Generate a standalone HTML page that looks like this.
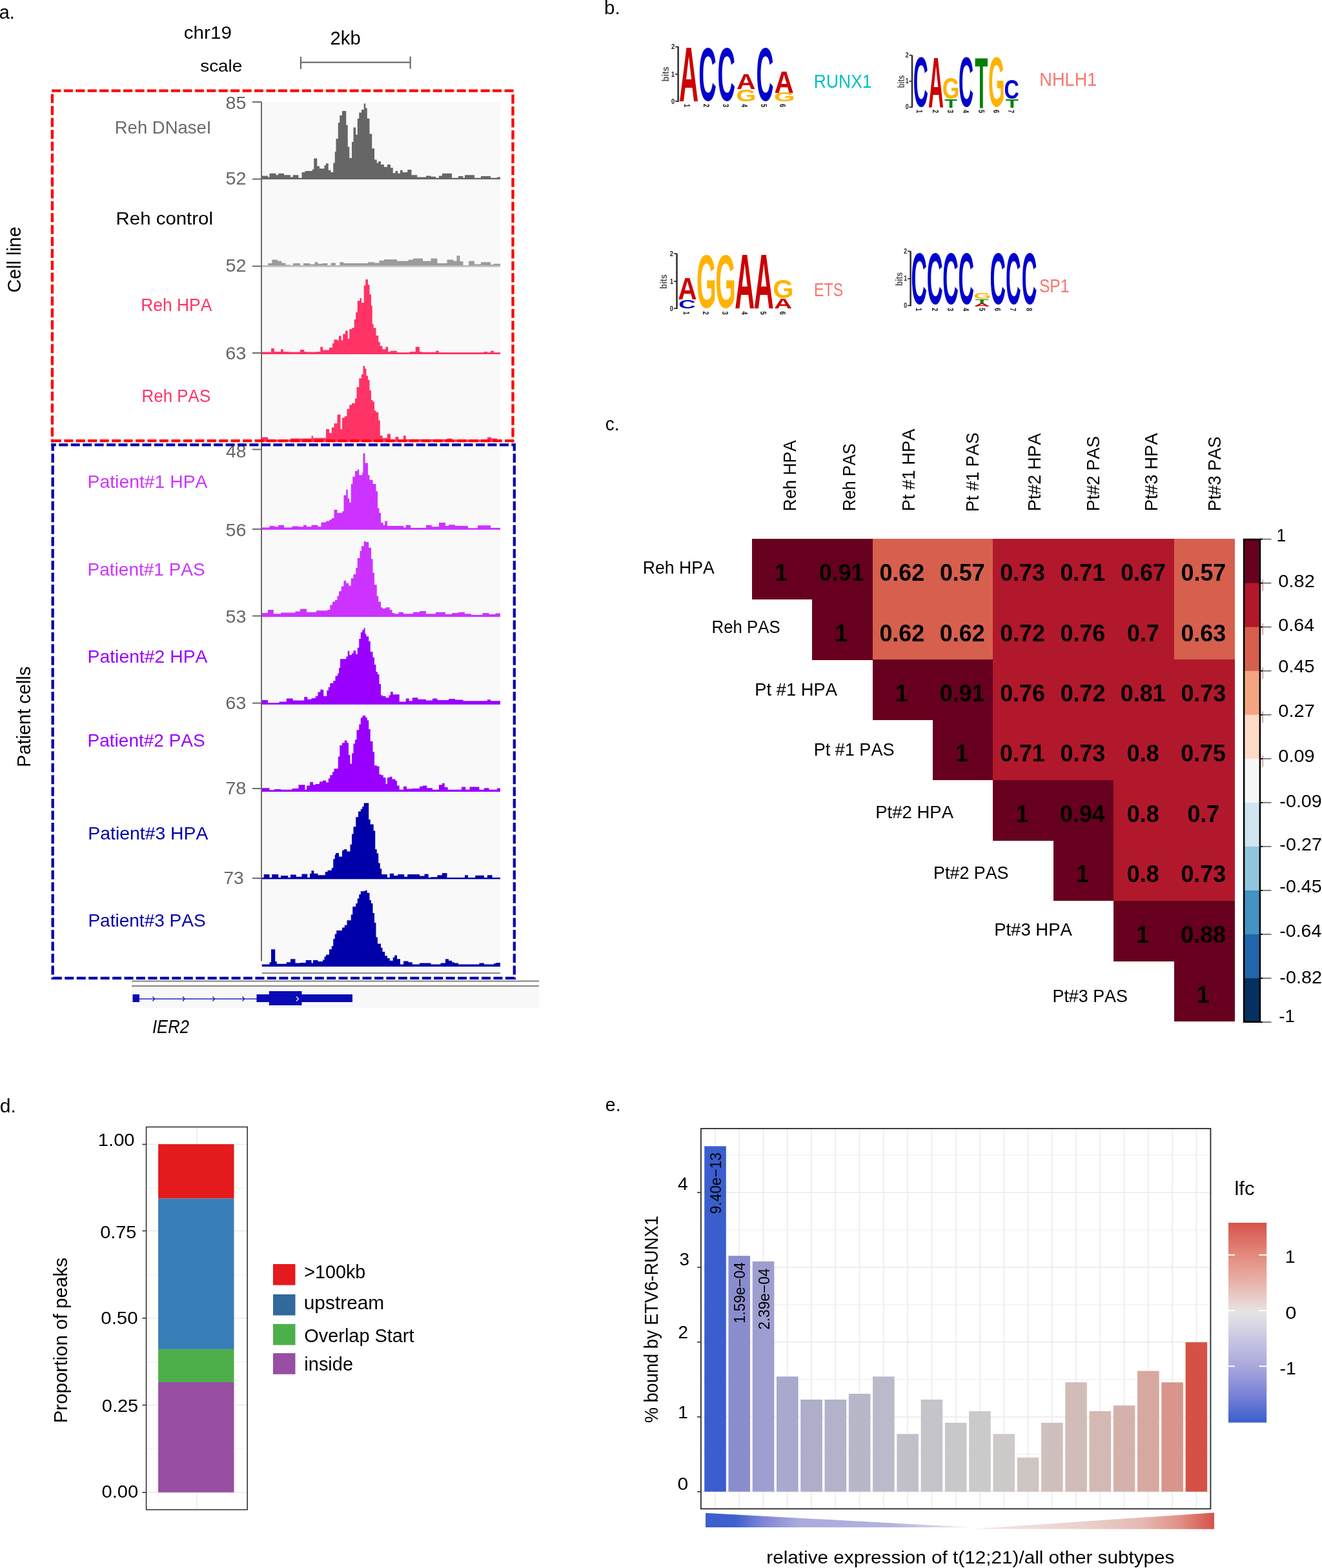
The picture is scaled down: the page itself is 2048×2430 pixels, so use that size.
<!DOCTYPE html>
<html><head><meta charset="utf-8"><title>Figure</title>
<style>
html,body{margin:0;padding:0;background:#fff;}
body{width:2048px;height:2430px;overflow:hidden;}
svg{display:block;}
svg text{font-family:"Liberation Sans", Arial, sans-serif;font-kerning:none;font-variant-ligatures:none;}
</style></head>
<body>
<svg width="2048" height="2430" viewBox="0 0 2048 2430">
<rect x="0" y="0" width="2048" height="2430" fill="#fff"/>
<text x="-1.23" y="28.80" font-size="29.50" textLength="24.06" lengthAdjust="spacingAndGlyphs" fill="#000">a.</text>
<rect x="406.0" y="158" width="369.0" height="1352" fill="#f9f9f9"/>
<path d="M406.00,277.90 L405.50,272.50 L415.00,272.50 L415.00,274.50 L417.50,274.50 L417.50,268.75 L427.50,268.75 L427.50,271.25 L431.25,271.25 L431.25,268.75 L440.00,268.75 L440.00,271.25 L450.00,271.25 L450.00,274.50 L453.75,274.50 L453.75,271.25 L462.50,271.25 L462.50,276.25 L467.50,276.25 L467.50,267.00 L472.50,267.00 L472.50,265.00 L483.75,265.00 L483.75,262.50 L486.25,262.50 L486.25,245.50 L491.25,245.50 L491.25,257.50 L495.00,257.50 L495.00,261.25 L502.50,261.25 L502.50,256.25 L505.00,256.25 L505.00,253.25 L508.75,253.25 L508.75,263.75 L512.50,263.75 L512.50,267.00 L516.25,267.00 L516.25,252.50 L518.75,252.50 L518.75,235.00 L520.50,235.00 L520.50,215.00 L523.75,215.00 L523.75,190.00 L526.25,190.00 L526.25,178.75 L530.00,178.75 L530.00,172.00 L536.25,172.00 L536.25,193.75 L538.75,193.75 L538.75,227.50 L541.25,227.50 L541.25,245.00 L545.00,245.00 L545.00,220.00 L547.50,220.00 L547.50,197.50 L551.25,197.50 L551.25,208.75 L553.75,208.75 L553.75,183.75 L556.25,183.75 L556.25,174.50 L560.00,174.50 L560.00,170.00 L563.75,170.00 L563.75,160.50 L566.25,160.50 L566.25,167.50 L568.75,167.50 L568.75,183.75 L572.50,183.75 L572.50,207.50 L576.25,207.50 L576.25,230.00 L580.00,230.00 L580.00,247.50 L583.75,247.50 L583.75,252.50 L586.25,252.50 L586.25,250.00 L590.00,250.00 L590.00,255.00 L595.00,255.00 L595.00,258.75 L600.00,258.75 L600.00,255.00 L605.00,255.00 L605.00,260.00 L608.75,260.00 L608.75,268.25 L612.50,268.25 L612.50,265.00 L616.25,265.00 L616.25,268.75 L620.00,268.75 L620.00,263.75 L623.75,263.75 L623.75,267.00 L631.25,267.00 L631.25,263.00 L637.50,263.00 L637.50,271.25 L646.25,271.25 L646.25,274.50 L660.00,274.50 L660.00,272.50 L667.50,272.50 L667.50,273.75 L675.00,273.75 L675.00,276.25 L680.00,276.25 L680.00,272.50 L685.00,272.50 L685.00,268.75 L700.00,268.75 L700.00,276.25 L710.00,276.25 L710.00,273.00 L717.50,273.00 L717.50,276.25 L720.00,276.25 L720.00,271.25 L735.00,271.25 L735.00,276.25 L745.00,276.25 L745.00,273.00 L760.00,273.00 L760.00,276.25 L770.00,276.25 L770.00,274.50 L775.00,274.50 L775.00,277.90 Z" fill="#666666"/>
<rect x="406.0" y="275.70" width="369.0" height="2.2" fill="#666666"/>
<path d="M406.00,413.60 L405.50,411.25 L415.00,411.25 L415.00,408.00 L421.25,408.00 L421.25,402.50 L430.00,402.50 L430.00,404.50 L436.25,404.50 L436.25,407.50 L442.50,407.50 L442.50,410.50 L450.00,410.50 L450.00,411.25 L453.75,411.25 L453.75,408.00 L465.00,408.00 L465.00,411.25 L470.00,411.25 L470.00,408.00 L480.00,408.00 L480.00,409.50 L487.50,409.50 L487.50,406.25 L492.50,406.25 L492.50,408.75 L500.00,408.75 L500.00,408.00 L507.50,408.00 L507.50,411.25 L512.50,411.25 L512.50,407.50 L520.00,407.50 L520.00,411.25 L526.25,411.25 L526.25,406.25 L532.50,406.25 L532.50,408.00 L540.00,408.00 L540.00,408.00 L570.00,408.00 L570.00,406.25 L580.00,406.25 L580.00,407.50 L587.50,407.50 L587.50,403.75 L595.00,403.75 L595.00,402.00 L602.50,402.00 L602.50,402.00 L615.00,402.00 L615.00,404.50 L632.50,404.50 L632.50,402.50 L640.00,402.50 L640.00,400.50 L655.00,400.50 L655.00,404.50 L667.50,404.50 L667.50,400.50 L677.50,400.50 L677.50,408.00 L682.50,408.00 L682.50,408.00 L692.50,408.00 L692.50,402.50 L702.50,402.50 L702.50,404.50 L707.50,404.50 L707.50,396.25 L712.50,396.25 L712.50,405.00 L717.50,405.00 L717.50,411.25 L726.25,411.25 L726.25,404.50 L735.00,404.50 L735.00,409.50 L745.00,409.50 L745.00,406.25 L760.00,406.25 L760.00,410.00 L765.00,410.00 L765.00,408.75 L775.00,408.75 L775.00,413.60 Z" fill="#9b9b9b"/>
<rect x="406.0" y="411.40" width="369.0" height="2.2" fill="#c2c2c2"/>
<path d="M406.00,548.90 L405.50,545.50 L420.00,545.50 L420.00,540.00 L425.00,540.00 L425.00,545.00 L435.00,545.00 L435.00,541.25 L438.75,541.25 L438.75,545.00 L447.50,545.00 L447.50,545.50 L465.00,545.50 L465.00,542.00 L471.25,542.00 L471.25,545.00 L475.00,545.00 L475.00,545.50 L490.00,545.50 L490.00,545.00 L496.25,545.00 L496.25,537.50 L500.00,537.50 L500.00,542.50 L510.00,542.50 L510.00,538.75 L515.00,538.75 L515.00,532.00 L517.50,532.00 L517.50,526.25 L522.50,526.25 L522.50,527.50 L525.00,527.50 L525.00,520.50 L528.75,520.50 L528.75,527.50 L531.25,527.50 L531.25,517.50 L535.00,517.50 L535.00,512.50 L538.75,512.50 L538.75,525.00 L541.25,525.00 L541.25,510.00 L545.00,510.00 L545.00,508.25 L548.75,508.25 L548.75,495.00 L551.25,495.00 L551.25,483.75 L553.75,483.75 L553.75,466.25 L557.50,466.25 L557.50,462.00 L560.00,462.00 L560.00,469.25 L563.75,469.25 L563.75,442.50 L566.25,442.50 L566.25,433.00 L570.00,433.00 L570.00,441.25 L572.50,441.25 L572.50,456.25 L575.00,456.25 L575.00,473.75 L576.75,473.75 L576.75,502.50 L578.75,502.50 L578.75,508.25 L582.50,508.25 L582.50,520.00 L586.25,520.00 L586.25,530.00 L588.75,530.00 L588.75,536.25 L592.50,536.25 L592.50,541.25 L597.50,541.25 L597.50,537.50 L601.25,537.50 L601.25,545.00 L605.00,545.00 L605.00,543.75 L615.00,543.75 L615.00,546.25 L635.00,546.25 L635.00,545.00 L643.75,545.00 L643.75,537.50 L650.00,537.50 L650.00,545.00 L653.75,545.00 L653.75,545.75 L675.00,545.75 L675.00,543.75 L680.00,543.75 L680.00,546.25 L750.00,546.25 L750.00,545.00 L755.00,545.00 L755.00,546.25 L760.00,546.25 L760.00,543.75 L765.00,543.75 L765.00,546.25 L775.00,546.25 L775.00,548.90 Z" fill="#ff3366"/>
<rect x="406.0" y="546.70" width="369.0" height="2.2" fill="#ff3366"/>
<path d="M406.00,684.70 L405.50,677.50 L415.00,677.50 L415.00,681.25 L450.00,681.25 L450.00,679.50 L482.50,679.50 L482.50,675.50 L485.00,675.50 L485.00,678.75 L505.00,678.75 L505.00,665.00 L510.00,665.00 L510.00,671.25 L513.75,671.25 L513.75,662.50 L517.50,662.50 L517.50,656.25 L522.50,656.25 L522.50,642.50 L527.50,642.50 L527.50,665.00 L530.00,665.00 L530.00,647.50 L533.75,647.50 L533.75,645.00 L537.50,645.00 L537.50,633.75 L541.25,633.75 L541.25,627.50 L545.00,627.50 L545.00,625.00 L550.00,625.00 L550.00,617.50 L552.50,617.50 L552.50,600.00 L556.25,600.00 L556.25,586.25 L560.00,586.25 L560.00,580.00 L562.50,580.00 L562.50,567.00 L565.00,567.00 L565.00,571.25 L567.50,571.25 L567.50,582.50 L570.00,582.50 L570.00,588.75 L572.50,588.75 L572.50,605.00 L575.00,605.00 L575.00,620.00 L577.50,620.00 L577.50,622.50 L580.00,622.50 L580.00,636.25 L582.50,636.25 L582.50,638.75 L586.25,638.75 L586.25,651.25 L588.75,651.25 L588.75,675.00 L592.50,675.00 L592.50,678.75 L600.00,678.75 L600.00,672.50 L605.00,672.50 L605.00,681.25 L612.50,681.25 L612.50,677.00 L617.50,677.00 L617.50,681.25 L625.00,681.25 L625.00,675.00 L628.75,675.00 L628.75,680.75 L692.50,680.75 L692.50,679.50 L700.00,679.50 L700.00,681.25 L755.00,681.25 L755.00,677.50 L761.25,677.50 L761.25,679.50 L770.00,679.50 L770.00,681.25 L775.00,681.25 L775.00,684.70 Z" fill="#ff3366"/>
<rect x="406.0" y="682.50" width="369.0" height="2.2" fill="#ff3366"/>
<path d="M406.00,820.70 L405.50,817.50 L417.50,817.50 L417.50,815.00 L425.00,815.00 L425.00,816.25 L431.25,816.25 L431.25,813.75 L440.00,813.75 L440.00,817.50 L452.50,817.50 L452.50,815.50 L462.50,815.50 L462.50,816.25 L470.00,816.25 L470.00,813.75 L475.00,813.75 L475.00,816.25 L482.50,816.25 L482.50,813.75 L492.50,813.75 L492.50,816.25 L497.50,816.25 L497.50,809.50 L505.00,809.50 L505.00,807.50 L510.00,807.50 L510.00,805.50 L513.75,805.50 L513.75,803.00 L517.50,803.00 L517.50,790.00 L522.50,790.00 L522.50,795.00 L530.00,795.00 L530.00,792.50 L532.50,792.50 L532.50,767.50 L536.25,767.50 L536.25,758.75 L538.75,758.75 L538.75,772.50 L541.25,772.50 L541.25,778.75 L543.75,778.75 L543.75,750.00 L546.25,750.00 L546.25,738.75 L550.00,738.75 L550.00,730.00 L553.75,730.00 L553.75,727.50 L556.25,727.50 L556.25,736.25 L561.25,736.25 L561.25,732.50 L562.50,732.50 L562.50,702.50 L565.50,702.50 L565.50,717.50 L570.00,717.50 L570.00,736.25 L572.50,736.25 L572.50,743.75 L577.50,743.75 L577.50,750.00 L582.50,750.00 L582.50,761.25 L585.00,761.25 L585.00,787.50 L587.50,787.50 L587.50,795.00 L590.00,795.00 L590.00,810.00 L593.75,810.00 L593.75,813.75 L596.25,813.75 L596.25,807.50 L600.00,807.50 L600.00,815.00 L625.00,815.00 L625.00,817.50 L628.75,817.50 L628.75,813.75 L636.25,813.75 L636.25,818.00 L660.00,818.00 L660.00,813.75 L668.75,813.75 L668.75,816.25 L680.00,816.25 L680.00,810.00 L690.00,810.00 L690.00,815.00 L695.00,815.00 L695.00,813.25 L705.00,813.25 L705.00,815.00 L725.00,815.00 L725.00,818.75 L740.00,818.75 L740.00,814.25 L760.00,814.25 L760.00,818.00 L775.00,818.00 L775.00,820.70 Z" fill="#cc33ff"/>
<rect x="406.0" y="818.50" width="369.0" height="2.2" fill="#cc33ff"/>
<path d="M406.00,955.90 L405.50,950.00 L415.00,950.00 L415.00,945.00 L423.75,945.00 L423.75,951.25 L435.00,951.25 L435.00,949.50 L457.50,949.50 L457.50,947.50 L465.00,947.50 L465.00,943.75 L475.00,943.75 L475.00,948.75 L490.00,948.75 L490.00,946.25 L507.50,946.25 L507.50,945.00 L511.25,945.00 L511.25,937.50 L515.00,937.50 L515.00,932.50 L518.75,932.50 L518.75,930.00 L522.50,930.00 L522.50,923.75 L525.00,923.75 L525.00,916.25 L528.75,916.25 L528.75,908.75 L532.50,908.75 L532.50,900.00 L536.25,900.00 L536.25,903.75 L540.00,903.75 L540.00,907.50 L543.75,907.50 L543.75,896.25 L547.50,896.25 L547.50,890.00 L551.25,890.00 L551.25,880.00 L553.75,880.00 L553.75,865.00 L557.50,865.00 L557.50,853.75 L560.00,853.75 L560.00,846.25 L563.75,846.25 L563.75,838.75 L566.25,838.75 L566.25,840.00 L571.25,840.00 L571.25,848.75 L575.00,848.75 L575.00,866.25 L577.50,866.25 L577.50,887.50 L580.00,887.50 L580.00,906.25 L583.75,906.25 L583.75,923.75 L586.25,923.75 L586.25,932.50 L590.00,932.50 L590.00,941.25 L592.50,941.25 L592.50,943.00 L597.50,943.00 L597.50,941.25 L603.75,941.25 L603.75,945.00 L607.50,945.00 L607.50,950.00 L611.25,950.00 L611.25,951.25 L617.50,951.25 L617.50,948.75 L625.00,948.75 L625.00,951.25 L640.00,951.25 L640.00,948.75 L650.00,948.75 L650.00,947.00 L660.00,947.00 L660.00,951.25 L675.00,951.25 L675.00,948.75 L690.00,948.75 L690.00,952.00 L700.00,952.00 L700.00,950.00 L710.00,950.00 L710.00,948.75 L720.00,948.75 L720.00,951.25 L730.00,951.25 L730.00,953.00 L747.50,953.00 L747.50,950.00 L757.50,950.00 L757.50,952.00 L767.50,952.00 L767.50,950.50 L775.00,950.50 L775.00,955.90 Z" fill="#cc33ff"/>
<rect x="406.0" y="953.70" width="369.0" height="2.2" fill="#cc33ff"/>
<path d="M406.00,1091.60 L405.50,1085.00 L415.00,1085.00 L415.00,1089.50 L432.50,1089.50 L432.50,1087.50 L443.75,1087.50 L443.75,1082.50 L453.75,1082.50 L453.75,1085.50 L461.25,1085.50 L461.25,1085.50 L471.25,1085.50 L471.25,1080.00 L476.25,1080.00 L476.25,1083.75 L482.50,1083.75 L482.50,1082.00 L488.75,1082.00 L488.75,1078.75 L492.50,1078.75 L492.50,1072.50 L496.25,1072.50 L496.25,1068.75 L501.25,1068.75 L501.25,1078.75 L506.25,1078.75 L506.25,1070.00 L508.75,1070.00 L508.75,1065.00 L511.25,1065.00 L511.25,1058.75 L516.25,1058.75 L516.25,1055.00 L519.50,1055.00 L519.50,1047.50 L523.00,1047.50 L523.00,1043.75 L525.00,1043.75 L525.00,1035.00 L527.00,1035.00 L527.00,1021.25 L536.25,1021.25 L536.25,1017.50 L538.75,1017.50 L538.75,1008.75 L541.25,1008.75 L541.25,1015.00 L545.00,1015.00 L545.00,1012.50 L547.50,1012.50 L547.50,1008.25 L551.25,1008.25 L551.25,1013.75 L553.75,1013.75 L553.75,1003.75 L556.25,1003.75 L556.25,990.00 L558.75,990.00 L558.75,980.00 L561.25,980.00 L561.25,976.25 L563.75,976.25 L563.75,973.00 L565.50,973.00 L565.50,982.50 L567.50,982.50 L567.50,986.25 L571.25,986.25 L571.25,993.75 L573.75,993.75 L573.75,1010.00 L577.50,1010.00 L577.50,1018.75 L580.00,1018.75 L580.00,1030.00 L582.50,1030.00 L582.50,1041.25 L585.00,1041.25 L585.00,1045.00 L587.50,1045.00 L587.50,1060.00 L590.00,1060.00 L590.00,1077.50 L592.50,1077.50 L592.50,1078.75 L597.50,1078.75 L597.50,1081.25 L602.50,1081.25 L602.50,1077.50 L605.00,1077.50 L605.00,1072.00 L608.75,1072.00 L608.75,1076.25 L618.75,1076.25 L618.75,1087.50 L628.75,1087.50 L628.75,1082.50 L633.75,1082.50 L633.75,1086.25 L638.75,1086.25 L638.75,1081.25 L647.50,1081.25 L647.50,1083.75 L660.00,1083.75 L660.00,1085.50 L670.00,1085.50 L670.00,1082.50 L677.50,1082.50 L677.50,1085.00 L695.00,1085.00 L695.00,1083.00 L705.00,1083.00 L705.00,1084.50 L717.50,1084.50 L717.50,1086.25 L755.00,1086.25 L755.00,1084.25 L760.00,1084.25 L760.00,1086.25 L775.00,1086.25 L775.00,1091.60 Z" fill="#9900ff"/>
<rect x="406.0" y="1089.40" width="369.0" height="2.2" fill="#9900ff"/>
<path d="M406.00,1226.90 L405.50,1221.25 L417.50,1221.25 L417.50,1224.50 L425.00,1224.50 L425.00,1223.00 L435.00,1223.00 L435.00,1223.75 L452.50,1223.75 L452.50,1222.00 L462.50,1222.00 L462.50,1216.25 L472.50,1216.25 L472.50,1223.75 L475.00,1223.75 L475.00,1217.50 L480.00,1217.50 L480.00,1212.00 L485.00,1212.00 L485.00,1216.25 L488.75,1216.25 L488.75,1215.00 L495.00,1215.00 L495.00,1211.25 L500.00,1211.25 L500.00,1209.50 L505.00,1209.50 L505.00,1212.50 L508.75,1212.50 L508.75,1206.25 L511.25,1206.25 L511.25,1201.25 L515.00,1201.25 L515.00,1196.25 L517.50,1196.25 L517.50,1191.25 L523.75,1191.25 L523.75,1172.50 L526.25,1172.50 L526.25,1155.00 L530.00,1155.00 L530.00,1151.25 L533.75,1151.25 L533.75,1147.50 L537.50,1147.50 L537.50,1151.25 L540.00,1151.25 L540.00,1170.00 L542.50,1170.00 L542.50,1183.75 L545.00,1183.75 L545.00,1167.50 L547.50,1167.50 L547.50,1152.50 L550.00,1152.50 L550.00,1146.25 L552.50,1146.25 L552.50,1131.25 L556.25,1131.25 L556.25,1122.50 L558.75,1122.50 L558.75,1112.50 L561.25,1112.50 L561.25,1109.50 L563.75,1109.50 L563.75,1108.75 L566.25,1108.75 L566.25,1112.00 L568.75,1112.00 L568.75,1116.25 L571.25,1116.25 L571.25,1130.00 L573.75,1130.00 L573.75,1148.75 L577.50,1148.75 L577.50,1165.00 L580.00,1165.00 L580.00,1186.25 L583.75,1186.25 L583.75,1187.50 L587.50,1187.50 L587.50,1200.00 L590.00,1200.00 L590.00,1201.25 L593.75,1201.25 L593.75,1205.00 L597.50,1205.00 L597.50,1215.00 L600.00,1215.00 L600.00,1205.00 L603.75,1205.00 L603.75,1203.75 L607.50,1203.75 L607.50,1207.50 L612.50,1207.50 L612.50,1210.00 L615.00,1210.00 L615.00,1217.50 L618.75,1217.50 L618.75,1223.75 L625.00,1223.75 L625.00,1218.75 L630.00,1218.75 L630.00,1222.50 L637.50,1222.50 L637.50,1222.00 L650.00,1222.00 L650.00,1218.75 L655.00,1218.75 L655.00,1217.50 L661.25,1217.50 L661.25,1221.25 L670.00,1221.25 L670.00,1223.75 L680.00,1223.75 L680.00,1216.25 L685.00,1216.25 L685.00,1213.75 L688.75,1213.75 L688.75,1220.00 L693.75,1220.00 L693.75,1223.75 L715.00,1223.75 L715.00,1219.50 L721.25,1219.50 L721.25,1223.75 L727.50,1223.75 L727.50,1219.50 L742.50,1219.50 L742.50,1223.75 L750.00,1223.75 L750.00,1221.25 L757.50,1221.25 L757.50,1223.75 L770.00,1223.75 L770.00,1221.50 L775.00,1221.50 L775.00,1226.90 Z" fill="#9900ff"/>
<rect x="406.0" y="1224.70" width="369.0" height="2.2" fill="#9900ff"/>
<path d="M406.00,1362.20 L405.50,1360.00 L408.75,1360.00 L408.75,1355.00 L417.50,1355.00 L417.50,1360.00 L421.25,1360.00 L421.25,1355.00 L431.25,1355.00 L431.25,1360.00 L435.00,1360.00 L435.00,1357.00 L446.25,1357.00 L446.25,1360.00 L450.00,1360.00 L450.00,1355.50 L458.75,1355.50 L458.75,1358.75 L467.50,1358.75 L467.50,1354.50 L476.25,1354.50 L476.25,1360.00 L480.00,1360.00 L480.00,1353.75 L482.50,1353.75 L482.50,1349.25 L486.25,1349.25 L486.25,1353.75 L492.50,1353.75 L492.50,1356.25 L503.75,1356.25 L503.75,1351.25 L507.50,1351.25 L507.50,1348.75 L513.75,1348.75 L513.75,1345.00 L516.25,1345.00 L516.25,1331.25 L518.75,1331.25 L518.75,1325.00 L520.00,1325.00 L520.00,1322.00 L525.00,1322.00 L525.00,1327.50 L530.00,1327.50 L530.00,1318.00 L532.50,1318.00 L532.50,1316.25 L537.50,1316.25 L537.50,1319.50 L542.50,1319.50 L542.50,1308.75 L545.00,1308.75 L545.00,1292.50 L547.50,1292.50 L547.50,1281.25 L551.25,1281.25 L551.25,1266.25 L555.00,1266.25 L555.00,1257.50 L558.75,1257.50 L558.75,1253.75 L561.25,1253.75 L561.25,1250.00 L563.75,1250.00 L563.75,1244.50 L571.25,1244.50 L571.25,1270.00 L573.75,1270.00 L573.75,1277.50 L578.75,1277.50 L578.75,1287.50 L581.25,1287.50 L581.25,1316.25 L583.75,1316.25 L583.75,1322.50 L586.25,1322.50 L586.25,1337.50 L588.75,1337.50 L588.75,1346.25 L591.25,1346.25 L591.25,1355.00 L600.00,1355.00 L600.00,1360.00 L603.75,1360.00 L603.75,1353.75 L610.00,1353.75 L610.00,1357.00 L616.25,1357.00 L616.25,1355.00 L626.25,1355.00 L626.25,1358.75 L631.25,1358.75 L631.25,1355.00 L650.00,1355.00 L650.00,1357.50 L657.50,1357.50 L657.50,1354.50 L663.75,1354.50 L663.75,1360.00 L667.50,1360.00 L667.50,1359.25 L677.50,1359.25 L677.50,1356.25 L685.00,1356.25 L685.00,1353.00 L692.50,1353.00 L692.50,1361.25 L720.00,1361.25 L720.00,1356.25 L725.00,1356.25 L725.00,1360.50 L736.25,1360.50 L736.25,1356.75 L750.00,1356.75 L750.00,1360.50 L755.00,1360.50 L755.00,1356.25 L762.50,1356.25 L762.50,1361.25 L775.00,1361.25 L775.00,1362.20 Z" fill="#0000aa"/>
<rect x="406.0" y="1360.00" width="369.0" height="2.2" fill="#0000aa"/>
<path d="M406.00,1497.90 L405.50,1494.50 L417.50,1494.50 L417.50,1491.25 L420.00,1491.25 L420.00,1471.25 L426.25,1471.25 L426.25,1490.00 L428.75,1490.00 L428.75,1493.75 L443.75,1493.75 L443.75,1491.25 L450.00,1491.25 L450.00,1486.25 L457.50,1486.25 L457.50,1492.50 L465.00,1492.50 L465.00,1492.00 L473.75,1492.00 L473.75,1488.00 L482.50,1488.00 L482.50,1492.50 L485.00,1492.50 L485.00,1488.00 L492.50,1488.00 L492.50,1490.00 L500.00,1490.00 L500.00,1487.50 L502.50,1487.50 L502.50,1482.50 L505.00,1482.50 L505.00,1479.50 L510.00,1479.50 L510.00,1471.25 L513.75,1471.25 L513.75,1466.25 L516.25,1466.25 L516.25,1455.00 L518.75,1455.00 L518.75,1447.50 L521.25,1447.50 L521.25,1442.00 L530.00,1442.00 L530.00,1437.50 L533.75,1437.50 L533.75,1433.75 L537.50,1433.75 L537.50,1426.25 L543.75,1426.25 L543.75,1417.50 L546.25,1417.50 L546.25,1405.00 L551.25,1405.00 L551.25,1400.00 L553.75,1400.00 L553.75,1392.50 L556.25,1392.50 L556.25,1386.25 L558.75,1386.25 L558.75,1381.25 L565.00,1381.25 L565.00,1380.00 L568.75,1380.00 L568.75,1383.75 L572.50,1383.75 L572.50,1395.00 L575.00,1395.00 L575.00,1400.00 L577.50,1400.00 L577.50,1415.00 L580.00,1415.00 L580.00,1430.00 L582.50,1430.00 L582.50,1452.50 L585.00,1452.50 L585.00,1462.50 L590.00,1462.50 L590.00,1468.75 L592.50,1468.75 L592.50,1475.00 L596.25,1475.00 L596.25,1481.25 L600.00,1481.25 L600.00,1485.00 L603.75,1485.00 L603.75,1488.75 L608.75,1488.75 L608.75,1483.75 L611.25,1483.75 L611.25,1480.50 L615.00,1480.50 L615.00,1486.25 L620.00,1486.25 L620.00,1494.50 L625.00,1494.50 L625.00,1489.50 L632.50,1489.50 L632.50,1491.25 L638.75,1491.25 L638.75,1494.50 L650.00,1494.50 L650.00,1492.50 L667.50,1492.50 L667.50,1494.50 L682.50,1494.50 L682.50,1492.50 L690.00,1492.50 L690.00,1486.25 L695.00,1486.25 L695.00,1488.75 L700.00,1488.75 L700.00,1491.25 L703.75,1491.25 L703.75,1492.50 L710.00,1492.50 L710.00,1494.50 L742.50,1494.50 L742.50,1492.50 L750.00,1492.50 L750.00,1494.50 L765.00,1494.50 L765.00,1493.00 L768.75,1493.00 L768.75,1492.00 L775.00,1492.00 L775.00,1497.90 Z" fill="#0000aa"/>
<rect x="406.0" y="1495.70" width="369.0" height="2.2" fill="#0000aa"/>
<rect x="406.0" y="1507" width="369.0" height="2" fill="#8a8a8a"/>
<rect x="404.1" y="158" width="1.9" height="1331.5" fill="#686463"/>
<rect x="391" y="157.10" width="14" height="1.9" fill="#686463"/>
<text x="349.45" y="168.75" font-size="27.50" textLength="31.95" lengthAdjust="spacingAndGlyphs" fill="#666666">85</text>
<rect x="391" y="276.60" width="14" height="1.9" fill="#686463"/>
<text x="349.54" y="286.20" font-size="27.50" textLength="32.11" lengthAdjust="spacingAndGlyphs" fill="#666666">52</text>
<rect x="391" y="411.60" width="14" height="1.9" fill="#686463"/>
<text x="349.54" y="421.00" font-size="27.50" textLength="32.11" lengthAdjust="spacingAndGlyphs" fill="#666666">52</text>
<rect x="391" y="546.10" width="14" height="1.9" fill="#686463"/>
<text x="349.23" y="556.50" font-size="27.50" textLength="32.25" lengthAdjust="spacingAndGlyphs" fill="#666666">63</text>
<rect x="391" y="695.60" width="14" height="1.9" fill="#686463"/>
<text x="350.05" y="708.70" font-size="27.50" textLength="31.37" lengthAdjust="spacingAndGlyphs" fill="#666666">48</text>
<rect x="391" y="819.10" width="14" height="1.9" fill="#686463"/>
<text x="349.55" y="830.80" font-size="27.50" textLength="31.91" lengthAdjust="spacingAndGlyphs" fill="#666666">56</text>
<rect x="391" y="953.60" width="14" height="1.9" fill="#686463"/>
<text x="349.55" y="964.50" font-size="27.50" textLength="31.91" lengthAdjust="spacingAndGlyphs" fill="#666666">53</text>
<rect x="391" y="1088.70" width="14" height="1.9" fill="#686463"/>
<text x="349.23" y="1099.00" font-size="27.50" textLength="32.25" lengthAdjust="spacingAndGlyphs" fill="#666666">63</text>
<rect x="391" y="1221.10" width="14" height="1.9" fill="#686463"/>
<text x="349.21" y="1231.30" font-size="27.50" textLength="32.25" lengthAdjust="spacingAndGlyphs" fill="#666666">78</text>
<rect x="391" y="1360.10" width="14" height="1.9" fill="#686463"/>
<text x="346.46" y="1369.50" font-size="27.50" textLength="31.28" lengthAdjust="spacingAndGlyphs" fill="#666666">73</text>
<text x="177.74" y="207.00" font-size="28.30" textLength="149.79" lengthAdjust="spacingAndGlyphs" fill="#6b6b6b">Reh DNaseI</text>
<text x="179.59" y="347.50" font-size="28.30" textLength="150.38" lengthAdjust="spacingAndGlyphs" fill="#000">Reh control</text>
<text x="218.13" y="481.70" font-size="28.30" textLength="110.22" lengthAdjust="spacingAndGlyphs" fill="#ff3366">Reh HPA</text>
<text x="219.57" y="622.80" font-size="28.30" textLength="106.62" lengthAdjust="spacingAndGlyphs" fill="#ff3366">Reh PAS</text>
<text x="135.57" y="756.00" font-size="28.30" textLength="185.98" lengthAdjust="spacingAndGlyphs" fill="#cc33ff">Patient#1 HPA</text>
<text x="135.60" y="892.40" font-size="28.30" textLength="182.08" lengthAdjust="spacingAndGlyphs" fill="#cc33ff">Patient#1 PAS</text>
<text x="135.57" y="1027.20" font-size="28.30" textLength="185.98" lengthAdjust="spacingAndGlyphs" fill="#9900ff">Patient#2 HPA</text>
<text x="135.60" y="1157.00" font-size="28.30" textLength="182.08" lengthAdjust="spacingAndGlyphs" fill="#9900ff">Patient#2 PAS</text>
<text x="136.37" y="1301.40" font-size="28.30" textLength="186.08" lengthAdjust="spacingAndGlyphs" fill="#0000aa">Patient#3 HPA</text>
<text x="136.40" y="1436.10" font-size="28.30" textLength="182.29" lengthAdjust="spacingAndGlyphs" fill="#0000aa">Patient#3 PAS</text>
<text x="284.74" y="60.00" font-size="27.50" textLength="74.16" lengthAdjust="spacingAndGlyphs" fill="#000">chr19</text>
<text x="511.53" y="69.00" font-size="29.00" textLength="47.20" lengthAdjust="spacingAndGlyphs" fill="#000">2kb</text>
<text x="310.22" y="110.80" font-size="26.50" textLength="65.01" lengthAdjust="spacingAndGlyphs" fill="#000">scale</text>
<rect x="465" y="95.6" width="171" height="2.1" fill="#666"/>
<rect x="464.9" y="88" width="2.1" height="19" fill="#666"/>
<rect x="634.6" y="87.5" width="2.1" height="19" fill="#666"/>
<text transform="translate(31.50,452.00) rotate(-90)" x="-1.46" y="0" font-size="30.00" textLength="102.24" lengthAdjust="spacingAndGlyphs" fill="#000">Cell line</text>
<text transform="translate(46.50,1186.50) rotate(-90)" x="-2.38" y="0" font-size="30.00" textLength="156.12" lengthAdjust="spacingAndGlyphs" fill="#000">Patient cells</text>
<line x1="80.4" y1="140.6" x2="796.7" y2="140.6" stroke="#ff0000" stroke-width="4.3" stroke-dasharray="14.05 4.4" stroke-dashoffset="0.0"/>
<line x1="80.9" y1="683.2" x2="796.7" y2="683.2" stroke="#ff0000" stroke-width="4.3" stroke-dasharray="14.05 4.4" stroke-dashoffset="0.0"/>
<line x1="80.95" y1="145.8" x2="80.95" y2="685.4" stroke="#ff0000" stroke-width="4.3" stroke-dasharray="14.05 4.4" stroke-dashoffset="0.0"/>
<line x1="794.5" y1="146.6" x2="794.5" y2="685.4" stroke="#ff0000" stroke-width="4.3" stroke-dasharray="14.05 4.4" stroke-dashoffset="0.0"/>
<line x1="79.3" y1="689.4" x2="799.0" y2="689.4" stroke="#0000aa" stroke-width="4.3" stroke-dasharray="14.05 4.4" stroke-dashoffset="6.5"/>
<line x1="81.8" y1="1515.9" x2="799.0" y2="1515.9" stroke="#0000aa" stroke-width="4.3" stroke-dasharray="14.05 4.4" stroke-dashoffset="0.0"/>
<line x1="81.65" y1="687.4" x2="81.65" y2="1518.1" stroke="#0000aa" stroke-width="4.3" stroke-dasharray="14.05 4.4" stroke-dashoffset="2.8"/>
<line x1="796.8" y1="687.4" x2="796.8" y2="1518.1" stroke="#0000aa" stroke-width="4.3" stroke-dasharray="14.05 4.4" stroke-dashoffset="2.8"/>
<rect x="204" y="1530" width="631" height="32.5" fill="#f8f8f8"/>
<rect x="204" y="1519.4" width="631" height="2.2" fill="#8a8a8a"/>
<rect x="204" y="1527" width="631" height="2.2" fill="#8a8a8a"/>
<rect x="205.5" y="1541" width="10.5" height="12" fill="#0a0ab4"/>
<rect x="216" y="1547.4" width="182" height="1.3" fill="#0a0ab4"/>
<path d="M236.5,1544.5 L239.5,1548 L236.5,1551.5" fill="none" stroke="#0a0ab4" stroke-width="1.2"/>
<path d="M283.0,1544.5 L286.0,1548 L283.0,1551.5" fill="none" stroke="#0a0ab4" stroke-width="1.2"/>
<path d="M329.5,1544.5 L332.5,1548 L329.5,1551.5" fill="none" stroke="#0a0ab4" stroke-width="1.2"/>
<path d="M375.5,1544.5 L378.5,1548 L375.5,1551.5" fill="none" stroke="#0a0ab4" stroke-width="1.2"/>
<rect x="397.5" y="1541" width="148.5" height="12" fill="#0a0ab4"/>
<rect x="416.8" y="1536" width="50.7" height="22" fill="#0a0ab4"/>
<path d="M459,1544.5 L462.5,1548 L459,1551.5" fill="none" stroke="#fff" stroke-width="1.2"/>
<text x="235.99" y="1600.50" font-size="29.00" textLength="56.89" lengthAdjust="spacingAndGlyphs" fill="#000" font-style="italic">IER2</text>
<defs><filter id="lblur" x="-5%" y="-5%" width="110%" height="110%"><feGaussianBlur stdDeviation="0.45"/></filter></defs>
<text x="936.10" y="21.80" font-size="29.00" textLength="24.59" lengthAdjust="spacingAndGlyphs" fill="#000">b.</text>
<g filter="url(#lblur)"><rect x="1049.30" y="71.90" width="2.6" height="86.10" fill="#333"/>
<rect x="1046.10" y="71.70" width="4.5" height="1.6" fill="#222"/>
<text x="1039.93" y="76.30" font-size="11.50" textLength="5.24" lengthAdjust="spacingAndGlyphs" fill="#222" font-weight="bold">2</text>
<rect x="1046.10" y="114.20" width="4.5" height="1.6" fill="#222"/>
<text x="1039.82" y="118.80" font-size="11.50" textLength="5.24" lengthAdjust="spacingAndGlyphs" fill="#222" font-weight="bold">1</text>
<rect x="1046.10" y="156.20" width="4.5" height="1.6" fill="#222"/>
<text x="1039.94" y="160.79" font-size="11.50" textLength="5.24" lengthAdjust="spacingAndGlyphs" fill="#222" font-weight="bold">0</text>
<text transform="translate(1035.60,125.60) rotate(-90)" x="-0.86" y="0" font-size="14.00" textLength="23.25" lengthAdjust="spacingAndGlyphs" fill="#555" font-weight="bold">bits</text>
<text transform="translate(1051.96,157.25) scale(0.4174,1.2042)" x="0" y="0" font-size="100" font-weight="bold" fill="#cc0000">A</text>
<text transform="translate(1082.18,155.86) scale(0.3824,1.1723)" x="0" y="0" font-size="100" font-weight="bold" fill="#0000cc">C</text>
<text transform="translate(1111.43,155.86) scale(0.3824,1.1723)" x="0" y="0" font-size="100" font-weight="bold" fill="#0000cc">C</text>
<text transform="translate(1140.88,137.50) scale(0.4099,0.3270)" x="0" y="0" font-size="100" font-weight="bold" fill="#cc0000">A</text>
<text transform="translate(1140.36,156.99) scale(0.4001,0.2648)" x="0" y="0" font-size="100" font-weight="bold" fill="#ffb300">G</text>
<text transform="translate(1171.46,155.86) scale(0.3747,1.1723)" x="0" y="0" font-size="100" font-weight="bold" fill="#0000cc">C</text>
<text transform="translate(1199.56,143.50) scale(0.4196,0.4782)" x="0" y="0" font-size="100" font-weight="bold" fill="#cc0000">A</text>
<text transform="translate(1198.89,157.06) scale(0.4172,0.1942)" x="0" y="0" font-size="100" font-weight="bold" fill="#ffb300">G</text>
<text transform="translate(1065.00,163.50) rotate(90) scale(0.72,1)" x="0" y="4.5" font-size="13" font-weight="bold" fill="#222" text-anchor="middle">1</text>
<text transform="translate(1094.70,163.50) rotate(90) scale(0.72,1)" x="0" y="4.5" font-size="13" font-weight="bold" fill="#222" text-anchor="middle">2</text>
<text transform="translate(1124.40,163.50) rotate(90) scale(0.72,1)" x="0" y="4.5" font-size="13" font-weight="bold" fill="#222" text-anchor="middle">3</text>
<text transform="translate(1154.00,163.50) rotate(90) scale(0.72,1)" x="0" y="4.5" font-size="13" font-weight="bold" fill="#222" text-anchor="middle">4</text>
<text transform="translate(1183.60,163.50) rotate(90) scale(0.72,1)" x="0" y="4.5" font-size="13" font-weight="bold" fill="#222" text-anchor="middle">5</text>
<text transform="translate(1212.70,163.50) rotate(90) scale(0.72,1)" x="0" y="4.5" font-size="13" font-weight="bold" fill="#222" text-anchor="middle">6</text></g>
<text x="1260.83" y="136.10" font-size="29.00" textLength="89.66" lengthAdjust="spacingAndGlyphs" fill="#00bfc4">RUNX1</text>
<g filter="url(#lblur)"><rect x="1411.70" y="85.60" width="2.6" height="81.10" fill="#333"/>
<rect x="1408.50" y="84.80" width="4.5" height="1.6" fill="#222"/>
<text x="1402.76" y="89.06" font-size="10.50" textLength="4.79" lengthAdjust="spacingAndGlyphs" fill="#222" font-weight="bold">2</text>
<rect x="1408.50" y="125.20" width="4.5" height="1.6" fill="#222"/>
<text x="1402.65" y="129.47" font-size="10.50" textLength="4.79" lengthAdjust="spacingAndGlyphs" fill="#222" font-weight="bold">1</text>
<rect x="1408.50" y="165.20" width="4.5" height="1.6" fill="#222"/>
<text x="1402.76" y="169.47" font-size="10.50" textLength="4.79" lengthAdjust="spacingAndGlyphs" fill="#222" font-weight="bold">0</text>
<text transform="translate(1400.60,135.60) rotate(-90)" x="-0.73" y="0" font-size="14.00" textLength="19.79" lengthAdjust="spacingAndGlyphs" fill="#555" font-weight="bold">bits</text>
<text transform="translate(1414.68,164.53) scale(0.3212,1.0960)" x="0" y="0" font-size="100" font-weight="bold" fill="#0000cc">C</text>
<text transform="translate(1437.92,166.90) scale(0.3316,1.1214)" x="0" y="0" font-size="100" font-weight="bold" fill="#cc0000">A</text>
<text transform="translate(1459.84,153.06) scale(0.3431,0.4555)" x="0" y="0" font-size="100" font-weight="bold" fill="#ffb300">G</text>
<text transform="translate(1463.14,166.90) scale(0.3227,0.1766)" x="0" y="0" font-size="100" font-weight="bold" fill="#008000">T</text>
<text transform="translate(1484.93,164.53) scale(0.3212,1.0960)" x="0" y="0" font-size="100" font-weight="bold" fill="#0000cc">C</text>
<text transform="translate(1510.23,166.90) scale(0.3294,1.1214)" x="0" y="0" font-size="100" font-weight="bold" fill="#008000">T</text>
<text transform="translate(1530.90,164.53) scale(0.3282,1.0960)" x="0" y="0" font-size="100" font-weight="bold" fill="#ffb300">G</text>
<text transform="translate(1555.58,153.09) scale(0.3227,0.4167)" x="0" y="0" font-size="100" font-weight="bold" fill="#0000cc">C</text>
<text transform="translate(1557.63,166.90) scale(0.3311,0.1911)" x="0" y="0" font-size="100" font-weight="bold" fill="#008000">T</text>
<text transform="translate(1424.60,172.60) rotate(90) scale(0.72,1)" x="0" y="4.5" font-size="13" font-weight="bold" fill="#222" text-anchor="middle">1</text>
<text transform="translate(1450.00,172.60) rotate(90) scale(0.72,1)" x="0" y="4.5" font-size="13" font-weight="bold" fill="#222" text-anchor="middle">2</text>
<text transform="translate(1472.80,172.60) rotate(90) scale(0.72,1)" x="0" y="4.5" font-size="13" font-weight="bold" fill="#222" text-anchor="middle">3</text>
<text transform="translate(1496.80,172.60) rotate(90) scale(0.72,1)" x="0" y="4.5" font-size="13" font-weight="bold" fill="#222" text-anchor="middle">4</text>
<text transform="translate(1520.30,172.60) rotate(90) scale(0.72,1)" x="0" y="4.5" font-size="13" font-weight="bold" fill="#222" text-anchor="middle">5</text>
<text transform="translate(1543.30,172.60) rotate(90) scale(0.72,1)" x="0" y="4.5" font-size="13" font-weight="bold" fill="#222" text-anchor="middle">6</text>
<text transform="translate(1567.00,172.60) rotate(90) scale(0.72,1)" x="0" y="4.5" font-size="13" font-weight="bold" fill="#222" text-anchor="middle">7</text></g>
<text x="1610.37" y="132.50" font-size="29.50" textLength="88.95" lengthAdjust="spacingAndGlyphs" fill="#f8766d">NHLH1</text>
<g filter="url(#lblur)"><rect x="1047.20" y="393.00" width="2.6" height="85.75" fill="#333"/>
<rect x="1044.00" y="392.20" width="4.5" height="1.6" fill="#222"/>
<text x="1037.83" y="396.80" font-size="11.50" textLength="5.24" lengthAdjust="spacingAndGlyphs" fill="#222" font-weight="bold">2</text>
<rect x="1044.00" y="435.20" width="4.5" height="1.6" fill="#222"/>
<text x="1037.72" y="439.80" font-size="11.50" textLength="5.24" lengthAdjust="spacingAndGlyphs" fill="#222" font-weight="bold">1</text>
<rect x="1044.00" y="477.20" width="4.5" height="1.6" fill="#222"/>
<text x="1037.84" y="481.80" font-size="11.50" textLength="5.24" lengthAdjust="spacingAndGlyphs" fill="#222" font-weight="bold">0</text>
<text transform="translate(1033.00,446.90) rotate(-90)" x="-0.84" y="0" font-size="14.00" textLength="22.66" lengthAdjust="spacingAndGlyphs" fill="#555" font-weight="bold">bits</text>
<text transform="translate(1050.24,464.40) scale(0.4062,0.4724)" x="0" y="0" font-size="100" font-weight="bold" fill="#cc0000">A</text>
<text transform="translate(1051.23,477.82) scale(0.3694,0.1871)" x="0" y="0" font-size="100" font-weight="bold" fill="#0000cc">C</text>
<text transform="translate(1078.98,476.86) scale(0.3949,1.1723)" x="0" y="0" font-size="100" font-weight="bold" fill="#ffb300">G</text>
<text transform="translate(1108.33,476.86) scale(0.4075,1.1723)" x="0" y="0" font-size="100" font-weight="bold" fill="#ffb300">G</text>
<text transform="translate(1138.33,478.00) scale(0.4278,1.2064)" x="0" y="0" font-size="100" font-weight="bold" fill="#cc0000">A</text>
<text transform="translate(1167.68,478.00) scale(0.4285,1.2064)" x="0" y="0" font-size="100" font-weight="bold" fill="#cc0000">A</text>
<text transform="translate(1197.30,462.10) scale(0.4135,0.4061)" x="0" y="0" font-size="100" font-weight="bold" fill="#ffb300">G</text>
<text transform="translate(1199.03,478.00) scale(0.3913,0.2180)" x="0" y="0" font-size="100" font-weight="bold" fill="#cc0000">A</text>
<text transform="translate(1064.00,485.00) rotate(90) scale(0.72,1)" x="0" y="4.5" font-size="13" font-weight="bold" fill="#222" text-anchor="middle">1</text>
<text transform="translate(1094.00,485.00) rotate(90) scale(0.72,1)" x="0" y="4.5" font-size="13" font-weight="bold" fill="#222" text-anchor="middle">2</text>
<text transform="translate(1124.00,485.00) rotate(90) scale(0.72,1)" x="0" y="4.5" font-size="13" font-weight="bold" fill="#222" text-anchor="middle">3</text>
<text transform="translate(1154.00,485.00) rotate(90) scale(0.72,1)" x="0" y="4.5" font-size="13" font-weight="bold" fill="#222" text-anchor="middle">4</text>
<text transform="translate(1183.00,485.00) rotate(90) scale(0.72,1)" x="0" y="4.5" font-size="13" font-weight="bold" fill="#222" text-anchor="middle">5</text>
<text transform="translate(1213.00,485.00) rotate(90) scale(0.72,1)" x="0" y="4.5" font-size="13" font-weight="bold" fill="#222" text-anchor="middle">6</text></g>
<text x="1261.10" y="458.80" font-size="29.00" textLength="44.96" lengthAdjust="spacingAndGlyphs" fill="#f8766d">ETS</text>
<g filter="url(#lblur)"><rect x="1409.30" y="389.40" width="2.6" height="85.00" fill="#333"/>
<rect x="1406.10" y="388.60" width="4.5" height="1.6" fill="#222"/>
<text x="1400.36" y="392.86" font-size="10.50" textLength="4.79" lengthAdjust="spacingAndGlyphs" fill="#222" font-weight="bold">2</text>
<rect x="1406.10" y="431.10" width="4.5" height="1.6" fill="#222"/>
<text x="1400.25" y="435.36" font-size="10.50" textLength="4.79" lengthAdjust="spacingAndGlyphs" fill="#222" font-weight="bold">1</text>
<rect x="1406.10" y="472.70" width="4.5" height="1.6" fill="#222"/>
<text x="1400.36" y="476.96" font-size="10.50" textLength="4.79" lengthAdjust="spacingAndGlyphs" fill="#222" font-weight="bold">0</text>
<text transform="translate(1398.30,442.20) rotate(-90)" x="-0.78" y="0" font-size="14.00" textLength="21.07" lengthAdjust="spacingAndGlyphs" fill="#555" font-weight="bold">bits</text>
<text transform="translate(1411.61,471.29) scale(0.3395,1.1370)" x="0" y="0" font-size="100" font-weight="bold" fill="#0000cc">C</text>
<text transform="translate(1435.68,471.29) scale(0.3457,1.1370)" x="0" y="0" font-size="100" font-weight="bold" fill="#0000cc">C</text>
<text transform="translate(1460.30,471.29) scale(0.3411,1.1370)" x="0" y="0" font-size="100" font-weight="bold" fill="#0000cc">C</text>
<text transform="translate(1484.60,471.29) scale(0.3403,1.1370)" x="0" y="0" font-size="100" font-weight="bold" fill="#0000cc">C</text>
<text transform="translate(1533.41,471.29) scale(0.3395,1.1370)" x="0" y="0" font-size="100" font-weight="bold" fill="#0000cc">C</text>
<text transform="translate(1558.06,471.29) scale(0.3273,1.1370)" x="0" y="0" font-size="100" font-weight="bold" fill="#0000cc">C</text>
<text transform="translate(1582.66,471.29) scale(0.3273,1.1370)" x="0" y="0" font-size="100" font-weight="bold" fill="#0000cc">C</text>
<text transform="translate(1507.95,462.77) scale(0.3527,0.1356)" x="0" y="0" font-size="100" font-weight="bold" fill="#ffb300">G</text>
<text transform="translate(1510.61,470.00) scale(0.3498,0.0974)" x="0" y="0" font-size="100" font-weight="bold" fill="#008000">T</text>
<text transform="translate(1508.52,474.80) scale(0.3547,0.0698)" x="0" y="0" font-size="100" font-weight="bold" fill="#cc0000">A</text>
<text transform="translate(1424.00,479.50) rotate(90) scale(0.72,1)" x="0" y="4.5" font-size="13" font-weight="bold" fill="#222" text-anchor="middle">1</text>
<text transform="translate(1448.40,479.50) rotate(90) scale(0.72,1)" x="0" y="4.5" font-size="13" font-weight="bold" fill="#222" text-anchor="middle">2</text>
<text transform="translate(1472.80,479.50) rotate(90) scale(0.72,1)" x="0" y="4.5" font-size="13" font-weight="bold" fill="#222" text-anchor="middle">3</text>
<text transform="translate(1497.00,479.50) rotate(90) scale(0.72,1)" x="0" y="4.5" font-size="13" font-weight="bold" fill="#222" text-anchor="middle">4</text>
<text transform="translate(1521.30,479.50) rotate(90) scale(0.72,1)" x="0" y="4.5" font-size="13" font-weight="bold" fill="#222" text-anchor="middle">5</text>
<text transform="translate(1546.00,479.50) rotate(90) scale(0.72,1)" x="0" y="4.5" font-size="13" font-weight="bold" fill="#222" text-anchor="middle">6</text>
<text transform="translate(1570.00,479.50) rotate(90) scale(0.72,1)" x="0" y="4.5" font-size="13" font-weight="bold" fill="#222" text-anchor="middle">7</text>
<text transform="translate(1594.70,479.50) rotate(90) scale(0.72,1)" x="0" y="4.5" font-size="13" font-weight="bold" fill="#222" text-anchor="middle">8</text></g>
<text x="1609.88" y="453.30" font-size="29.00" textLength="46.73" lengthAdjust="spacingAndGlyphs" fill="#f8766d">SP1</text>
<text x="937.81" y="667.40" font-size="29.00" textLength="21.74" lengthAdjust="spacingAndGlyphs" fill="#000">c.</text>
<rect x="1164.80" y="835.20" width="94.00" height="94.00" fill="#67001f" shape-rendering="crispEdges"/>
<rect x="1258.20" y="835.20" width="94.00" height="94.00" fill="#67001f" shape-rendering="crispEdges"/>
<rect x="1351.60" y="835.20" width="94.00" height="94.00" fill="#d6604d" shape-rendering="crispEdges"/>
<rect x="1445.00" y="835.20" width="94.00" height="94.00" fill="#d6604d" shape-rendering="crispEdges"/>
<rect x="1538.40" y="835.20" width="94.00" height="94.00" fill="#b2182b" shape-rendering="crispEdges"/>
<rect x="1631.80" y="835.20" width="94.00" height="94.00" fill="#b2182b" shape-rendering="crispEdges"/>
<rect x="1725.20" y="835.20" width="94.00" height="94.00" fill="#b2182b" shape-rendering="crispEdges"/>
<rect x="1818.60" y="835.20" width="94.00" height="94.00" fill="#d6604d" shape-rendering="crispEdges"/>
<rect x="1258.20" y="928.60" width="94.00" height="94.00" fill="#67001f" shape-rendering="crispEdges"/>
<rect x="1351.60" y="928.60" width="94.00" height="94.00" fill="#d6604d" shape-rendering="crispEdges"/>
<rect x="1445.00" y="928.60" width="94.00" height="94.00" fill="#d6604d" shape-rendering="crispEdges"/>
<rect x="1538.40" y="928.60" width="94.00" height="94.00" fill="#b2182b" shape-rendering="crispEdges"/>
<rect x="1631.80" y="928.60" width="94.00" height="94.00" fill="#b2182b" shape-rendering="crispEdges"/>
<rect x="1725.20" y="928.60" width="94.00" height="94.00" fill="#b2182b" shape-rendering="crispEdges"/>
<rect x="1818.60" y="928.60" width="94.00" height="94.00" fill="#d6604d" shape-rendering="crispEdges"/>
<rect x="1351.60" y="1022.00" width="94.00" height="94.00" fill="#67001f" shape-rendering="crispEdges"/>
<rect x="1445.00" y="1022.00" width="94.00" height="94.00" fill="#67001f" shape-rendering="crispEdges"/>
<rect x="1538.40" y="1022.00" width="94.00" height="94.00" fill="#b2182b" shape-rendering="crispEdges"/>
<rect x="1631.80" y="1022.00" width="94.00" height="94.00" fill="#b2182b" shape-rendering="crispEdges"/>
<rect x="1725.20" y="1022.00" width="94.00" height="94.00" fill="#b2182b" shape-rendering="crispEdges"/>
<rect x="1818.60" y="1022.00" width="94.00" height="94.00" fill="#b2182b" shape-rendering="crispEdges"/>
<rect x="1445.00" y="1115.40" width="94.00" height="94.00" fill="#67001f" shape-rendering="crispEdges"/>
<rect x="1538.40" y="1115.40" width="94.00" height="94.00" fill="#b2182b" shape-rendering="crispEdges"/>
<rect x="1631.80" y="1115.40" width="94.00" height="94.00" fill="#b2182b" shape-rendering="crispEdges"/>
<rect x="1725.20" y="1115.40" width="94.00" height="94.00" fill="#b2182b" shape-rendering="crispEdges"/>
<rect x="1818.60" y="1115.40" width="94.00" height="94.00" fill="#b2182b" shape-rendering="crispEdges"/>
<rect x="1538.40" y="1208.80" width="94.00" height="94.00" fill="#67001f" shape-rendering="crispEdges"/>
<rect x="1631.80" y="1208.80" width="94.00" height="94.00" fill="#67001f" shape-rendering="crispEdges"/>
<rect x="1725.20" y="1208.80" width="94.00" height="94.00" fill="#b2182b" shape-rendering="crispEdges"/>
<rect x="1818.60" y="1208.80" width="94.00" height="94.00" fill="#b2182b" shape-rendering="crispEdges"/>
<rect x="1631.80" y="1302.20" width="94.00" height="94.00" fill="#67001f" shape-rendering="crispEdges"/>
<rect x="1725.20" y="1302.20" width="94.00" height="94.00" fill="#b2182b" shape-rendering="crispEdges"/>
<rect x="1818.60" y="1302.20" width="94.00" height="94.00" fill="#b2182b" shape-rendering="crispEdges"/>
<rect x="1725.20" y="1395.60" width="94.00" height="94.00" fill="#67001f" shape-rendering="crispEdges"/>
<rect x="1818.60" y="1395.60" width="94.00" height="94.00" fill="#67001f" shape-rendering="crispEdges"/>
<rect x="1818.60" y="1489.00" width="94.00" height="94.00" fill="#67001f" shape-rendering="crispEdges"/>
<text x="1199.91" y="900.20" font-size="37.50" textLength="19.92" lengthAdjust="spacingAndGlyphs" fill="#000" font-weight="bold">1</text>
<text x="1268.84" y="900.20" font-size="37.50" textLength="69.70" lengthAdjust="spacingAndGlyphs" fill="#000" font-weight="bold">0.91</text>
<text x="1362.46" y="900.20" font-size="37.50" textLength="69.70" lengthAdjust="spacingAndGlyphs" fill="#000" font-weight="bold">0.62</text>
<text x="1455.93" y="900.20" font-size="37.50" textLength="69.70" lengthAdjust="spacingAndGlyphs" fill="#000" font-weight="bold">0.57</text>
<text x="1549.19" y="900.20" font-size="37.50" textLength="69.70" lengthAdjust="spacingAndGlyphs" fill="#000" font-weight="bold">0.73</text>
<text x="1642.44" y="900.20" font-size="37.50" textLength="69.70" lengthAdjust="spacingAndGlyphs" fill="#000" font-weight="bold">0.71</text>
<text x="1736.13" y="900.20" font-size="37.50" textLength="69.70" lengthAdjust="spacingAndGlyphs" fill="#000" font-weight="bold">0.67</text>
<text x="1829.53" y="900.20" font-size="37.50" textLength="69.70" lengthAdjust="spacingAndGlyphs" fill="#000" font-weight="bold">0.57</text>
<text x="1293.31" y="993.60" font-size="37.50" textLength="19.92" lengthAdjust="spacingAndGlyphs" fill="#000" font-weight="bold">1</text>
<text x="1362.46" y="993.60" font-size="37.50" textLength="69.70" lengthAdjust="spacingAndGlyphs" fill="#000" font-weight="bold">0.62</text>
<text x="1455.86" y="993.60" font-size="37.50" textLength="69.70" lengthAdjust="spacingAndGlyphs" fill="#000" font-weight="bold">0.62</text>
<text x="1549.26" y="993.60" font-size="37.50" textLength="69.70" lengthAdjust="spacingAndGlyphs" fill="#000" font-weight="bold">0.72</text>
<text x="1642.59" y="993.60" font-size="37.50" textLength="69.70" lengthAdjust="spacingAndGlyphs" fill="#000" font-weight="bold">0.76</text>
<text x="1746.09" y="993.60" font-size="37.50" textLength="49.78" lengthAdjust="spacingAndGlyphs" fill="#000" font-weight="bold">0.7</text>
<text x="1829.39" y="993.60" font-size="37.50" textLength="69.70" lengthAdjust="spacingAndGlyphs" fill="#000" font-weight="bold">0.63</text>
<text x="1386.71" y="1087.00" font-size="37.50" textLength="19.92" lengthAdjust="spacingAndGlyphs" fill="#000" font-weight="bold">1</text>
<text x="1455.64" y="1087.00" font-size="37.50" textLength="69.70" lengthAdjust="spacingAndGlyphs" fill="#000" font-weight="bold">0.91</text>
<text x="1549.19" y="1087.00" font-size="37.50" textLength="69.70" lengthAdjust="spacingAndGlyphs" fill="#000" font-weight="bold">0.76</text>
<text x="1642.66" y="1087.00" font-size="37.50" textLength="69.70" lengthAdjust="spacingAndGlyphs" fill="#000" font-weight="bold">0.72</text>
<text x="1735.84" y="1087.00" font-size="37.50" textLength="69.70" lengthAdjust="spacingAndGlyphs" fill="#000" font-weight="bold">0.81</text>
<text x="1829.39" y="1087.00" font-size="37.50" textLength="69.70" lengthAdjust="spacingAndGlyphs" fill="#000" font-weight="bold">0.73</text>
<text x="1480.11" y="1180.40" font-size="37.50" textLength="19.92" lengthAdjust="spacingAndGlyphs" fill="#000" font-weight="bold">1</text>
<text x="1549.04" y="1180.40" font-size="37.50" textLength="69.70" lengthAdjust="spacingAndGlyphs" fill="#000" font-weight="bold">0.71</text>
<text x="1642.59" y="1180.40" font-size="37.50" textLength="69.70" lengthAdjust="spacingAndGlyphs" fill="#000" font-weight="bold">0.73</text>
<text x="1745.85" y="1180.40" font-size="37.50" textLength="49.78" lengthAdjust="spacingAndGlyphs" fill="#000" font-weight="bold">0.8</text>
<text x="1829.24" y="1180.40" font-size="37.50" textLength="69.70" lengthAdjust="spacingAndGlyphs" fill="#000" font-weight="bold">0.75</text>
<text x="1573.51" y="1273.80" font-size="37.50" textLength="19.92" lengthAdjust="spacingAndGlyphs" fill="#000" font-weight="bold">1</text>
<text x="1642.04" y="1273.80" font-size="37.50" textLength="69.70" lengthAdjust="spacingAndGlyphs" fill="#000" font-weight="bold">0.94</text>
<text x="1745.85" y="1273.80" font-size="37.50" textLength="49.78" lengthAdjust="spacingAndGlyphs" fill="#000" font-weight="bold">0.8</text>
<text x="1839.49" y="1273.80" font-size="37.50" textLength="49.78" lengthAdjust="spacingAndGlyphs" fill="#000" font-weight="bold">0.7</text>
<text x="1666.91" y="1367.20" font-size="37.50" textLength="19.92" lengthAdjust="spacingAndGlyphs" fill="#000" font-weight="bold">1</text>
<text x="1745.85" y="1367.20" font-size="37.50" textLength="49.78" lengthAdjust="spacingAndGlyphs" fill="#000" font-weight="bold">0.8</text>
<text x="1829.39" y="1367.20" font-size="37.50" textLength="69.70" lengthAdjust="spacingAndGlyphs" fill="#000" font-weight="bold">0.73</text>
<text x="1760.31" y="1460.60" font-size="37.50" textLength="19.92" lengthAdjust="spacingAndGlyphs" fill="#000" font-weight="bold">1</text>
<text x="1829.29" y="1460.60" font-size="37.50" textLength="69.70" lengthAdjust="spacingAndGlyphs" fill="#000" font-weight="bold">0.88</text>
<text x="1853.71" y="1554.00" font-size="37.50" textLength="19.92" lengthAdjust="spacingAndGlyphs" fill="#000" font-weight="bold">1</text>
<text transform="translate(1232.80,790.00) rotate(-90)" x="-2.16" y="0" font-size="28.50" textLength="109.91" lengthAdjust="spacingAndGlyphs" fill="#000">Reh HPA</text>
<text transform="translate(1324.80,790.00) rotate(-90)" x="-2.09" y="0" font-size="28.50" textLength="104.96" lengthAdjust="spacingAndGlyphs" fill="#000">Reh PAS</text>
<text transform="translate(1416.50,790.00) rotate(-90)" x="-2.24" y="0" font-size="28.50" textLength="127.70" lengthAdjust="spacingAndGlyphs" fill="#000">Pt #1 HPA</text>
<text transform="translate(1516.00,791.00) rotate(-90)" x="-2.19" y="0" font-size="28.50" textLength="122.91" lengthAdjust="spacingAndGlyphs" fill="#000">Pt #1 PAS</text>
<text transform="translate(1612.00,790.00) rotate(-90)" x="-2.26" y="0" font-size="28.50" textLength="120.81" lengthAdjust="spacingAndGlyphs" fill="#000">Pt#2 HPA</text>
<text transform="translate(1703.00,790.00) rotate(-90)" x="-2.20" y="0" font-size="28.50" textLength="116.44" lengthAdjust="spacingAndGlyphs" fill="#000">Pt#2 PAS</text>
<text transform="translate(1793.00,790.00) rotate(-90)" x="-2.27" y="0" font-size="28.50" textLength="121.32" lengthAdjust="spacingAndGlyphs" fill="#000">Pt#3 HPA</text>
<text transform="translate(1891.40,790.00) rotate(-90)" x="-2.19" y="0" font-size="28.50" textLength="115.82" lengthAdjust="spacingAndGlyphs" fill="#000">Pt#3 PAS</text>
<text x="995.82" y="889.40" font-size="28.50" textLength="110.94" lengthAdjust="spacingAndGlyphs" fill="#000">Reh HPA</text>
<text x="1102.58" y="981.00" font-size="28.50" textLength="106.10" lengthAdjust="spacingAndGlyphs" fill="#000">Reh PAS</text>
<text x="1169.36" y="1077.50" font-size="28.50" textLength="127.49" lengthAdjust="spacingAndGlyphs" fill="#000">Pt #1 HPA</text>
<text x="1260.78" y="1171.20" font-size="28.50" textLength="124.66" lengthAdjust="spacingAndGlyphs" fill="#000">Pt #1 PAS</text>
<text x="1356.24" y="1267.70" font-size="28.50" textLength="120.81" lengthAdjust="spacingAndGlyphs" fill="#000">Pt#2 HPA</text>
<text x="1446.10" y="1361.50" font-size="28.50" textLength="116.44" lengthAdjust="spacingAndGlyphs" fill="#000">Pt#2 PAS</text>
<text x="1540.15" y="1450.30" font-size="28.50" textLength="120.71" lengthAdjust="spacingAndGlyphs" fill="#000">Pt#3 HPA</text>
<text x="1630.50" y="1552.90" font-size="28.50" textLength="116.33" lengthAdjust="spacingAndGlyphs" fill="#000">Pt#3 PAS</text>
<rect x="1927" y="835.60" width="25" height="68.54" fill="#67001f"/>
<rect x="1927" y="903.64" width="25" height="68.54" fill="#b2182b"/>
<rect x="1927" y="971.67" width="25" height="68.54" fill="#d6604d"/>
<rect x="1927" y="1039.71" width="25" height="68.54" fill="#f4a582"/>
<rect x="1927" y="1107.75" width="25" height="68.54" fill="#fddbc7"/>
<rect x="1927" y="1175.78" width="25" height="68.54" fill="#f7f7f7"/>
<rect x="1927" y="1243.82" width="25" height="68.54" fill="#d1e5f0"/>
<rect x="1927" y="1311.85" width="25" height="68.54" fill="#92c5de"/>
<rect x="1927" y="1379.89" width="25" height="68.54" fill="#4393c3"/>
<rect x="1927" y="1447.93" width="25" height="68.54" fill="#2166ac"/>
<rect x="1927" y="1515.96" width="25" height="68.54" fill="#053061"/>
<rect x="1927.1" y="836.00" width="24.8" height="747.60" fill="none" stroke="#000" stroke-width="2.6"/>
<rect x="1952" y="834.70" width="17.5" height="1.8" fill="#707070"/>
<rect x="1952" y="834.70" width="4" height="1.8" fill="#000"/>
<text x="1977.47" y="839.40" font-size="27.50" textLength="14.83" lengthAdjust="spacingAndGlyphs" fill="#000">1</text>
<rect x="1952" y="902.74" width="17.5" height="1.8" fill="#707070"/>
<rect x="1952" y="902.74" width="4" height="1.8" fill="#000"/>
<rect x="1955.8" y="898.14" width="1" height="18" fill="#9a5a8a" opacity="0.85"/>
<rect x="1954.3" y="904.64" width="1.3" height="9" fill="#fddc8f" opacity="0.8"/>
<text x="1980.37" y="909.70" font-size="27.50" textLength="56.39" lengthAdjust="spacingAndGlyphs" fill="#000">0.82</text>
<rect x="1952" y="970.77" width="17.5" height="1.8" fill="#707070"/>
<rect x="1952" y="970.77" width="4" height="1.8" fill="#000"/>
<rect x="1955.8" y="966.17" width="1" height="18" fill="#9a5a8a" opacity="0.85"/>
<rect x="1954.3" y="972.67" width="1.3" height="9" fill="#fddc8f" opacity="0.8"/>
<text x="1980.38" y="977.80" font-size="27.50" textLength="55.76" lengthAdjust="spacingAndGlyphs" fill="#000">0.64</text>
<rect x="1952" y="1038.81" width="17.5" height="1.8" fill="#707070"/>
<rect x="1952" y="1038.81" width="4" height="1.8" fill="#000"/>
<rect x="1955.8" y="1034.21" width="1" height="18" fill="#9a5a8a" opacity="0.85"/>
<rect x="1954.3" y="1040.71" width="1.3" height="9" fill="#fddc8f" opacity="0.8"/>
<text x="1980.37" y="1042.30" font-size="27.50" textLength="56.14" lengthAdjust="spacingAndGlyphs" fill="#000">0.45</text>
<rect x="1952" y="1106.85" width="17.5" height="1.8" fill="#707070"/>
<rect x="1952" y="1106.85" width="4" height="1.8" fill="#000"/>
<rect x="1955.8" y="1102.25" width="1" height="18" fill="#9a5a8a" opacity="0.85"/>
<rect x="1954.3" y="1108.75" width="1.3" height="9" fill="#fddc8f" opacity="0.8"/>
<text x="1980.37" y="1111.00" font-size="27.50" textLength="56.39" lengthAdjust="spacingAndGlyphs" fill="#000">0.27</text>
<rect x="1952" y="1174.88" width="17.5" height="1.8" fill="#707070"/>
<rect x="1952" y="1174.88" width="4" height="1.8" fill="#000"/>
<rect x="1955.8" y="1170.28" width="1" height="18" fill="#9a5a8a" opacity="0.85"/>
<rect x="1954.3" y="1176.78" width="1.3" height="9" fill="#fddc8f" opacity="0.8"/>
<text x="1980.37" y="1181.00" font-size="27.50" textLength="56.30" lengthAdjust="spacingAndGlyphs" fill="#000">0.09</text>
<rect x="1952" y="1242.92" width="17.5" height="1.8" fill="#707070"/>
<rect x="1952" y="1242.92" width="4" height="1.8" fill="#000"/>
<text x="1982.32" y="1251.00" font-size="27.50" textLength="65.54" lengthAdjust="spacingAndGlyphs" fill="#000">-0.09</text>
<rect x="1952" y="1310.95" width="17.5" height="1.8" fill="#707070"/>
<rect x="1952" y="1310.95" width="4" height="1.8" fill="#000"/>
<text x="1982.32" y="1318.10" font-size="27.50" textLength="65.63" lengthAdjust="spacingAndGlyphs" fill="#000">-0.27</text>
<rect x="1952" y="1378.99" width="17.5" height="1.8" fill="#707070"/>
<rect x="1952" y="1378.99" width="4" height="1.8" fill="#000"/>
<text x="1982.33" y="1382.60" font-size="27.50" textLength="65.38" lengthAdjust="spacingAndGlyphs" fill="#000">-0.45</text>
<rect x="1952" y="1447.03" width="17.5" height="1.8" fill="#707070"/>
<rect x="1952" y="1447.03" width="4" height="1.8" fill="#000"/>
<text x="1982.33" y="1451.50" font-size="27.50" textLength="65.00" lengthAdjust="spacingAndGlyphs" fill="#000">-0.64</text>
<rect x="1952" y="1515.06" width="17.5" height="1.8" fill="#707070"/>
<rect x="1952" y="1515.06" width="4" height="1.8" fill="#000"/>
<text x="1982.32" y="1524.00" font-size="27.50" textLength="65.63" lengthAdjust="spacingAndGlyphs" fill="#000">-0.82</text>
<rect x="1952" y="1583.10" width="17.5" height="1.8" fill="#707070"/>
<rect x="1952" y="1583.10" width="4" height="1.8" fill="#000"/>
<text x="1981.28" y="1584.00" font-size="27.50" textLength="24.47" lengthAdjust="spacingAndGlyphs" fill="#000">-1</text>
<rect x="1507" y="1440" width="1.2" height="5" fill="#ffffa8"/>
<text x="-0.36" y="1723.80" font-size="29.50" textLength="25.11" lengthAdjust="spacingAndGlyphs" fill="#000">d.</text>
<rect x="226.6" y="1746.5" width="156.6" height="593.0999999999999" fill="#fff"/>
<rect x="226.6" y="1840.41" width="156.6" height="1" fill="#f0f0f0"/>
<rect x="226.6" y="1975.24" width="156.6" height="1" fill="#f0f0f0"/>
<rect x="226.6" y="2110.06" width="156.6" height="1" fill="#f0f0f0"/>
<rect x="226.6" y="2244.89" width="156.6" height="1" fill="#f0f0f0"/>
<rect x="226.6" y="1772.70" width="156.6" height="1.6" fill="#ebebeb"/>
<rect x="226.6" y="1906.70" width="156.6" height="1.6" fill="#ebebeb"/>
<rect x="226.6" y="2042.00" width="156.6" height="1.6" fill="#ebebeb"/>
<rect x="226.6" y="2176.80" width="156.6" height="1.6" fill="#ebebeb"/>
<rect x="226.6" y="2312.00" width="156.6" height="1.6" fill="#ebebeb"/>
<rect x="304" y="1746.5" width="1.6" height="593.0999999999999" fill="#ebebeb"/>
<rect x="245.1" y="1773.2" width="117.4" height="84.3" fill="#e41a1c"/>
<rect x="245.1" y="1857.5" width="117.4" height="233.4" fill="#377eb8"/>
<rect x="245.1" y="2090.9" width="117.4" height="51.1" fill="#4daf4a"/>
<rect x="245.1" y="2142" width="117.4" height="170.8" fill="#984ea3"/>
<rect x="226.6" y="1746.5" width="156.6" height="593.0999999999999" fill="none" stroke="#333" stroke-width="1.6"/>
<rect x="220.5" y="1772.70" width="6" height="1.6" fill="#333"/>
<text x="151.77" y="1776.00" font-size="28.50" textLength="56.87" lengthAdjust="spacingAndGlyphs" fill="#000">1.00</text>
<rect x="220.5" y="1906.70" width="6" height="1.6" fill="#333"/>
<text x="155.17" y="1918.50" font-size="28.50" textLength="56.24" lengthAdjust="spacingAndGlyphs" fill="#000">0.75</text>
<rect x="220.5" y="2042.00" width="6" height="1.6" fill="#333"/>
<text x="156.25" y="2052.00" font-size="28.50" textLength="57.40" lengthAdjust="spacingAndGlyphs" fill="#000">0.50</text>
<rect x="220.5" y="2176.80" width="6" height="1.6" fill="#333"/>
<text x="157.87" y="2188.30" font-size="28.50" textLength="56.35" lengthAdjust="spacingAndGlyphs" fill="#000">0.25</text>
<rect x="220.5" y="2312.00" width="6" height="1.6" fill="#333"/>
<text x="157.46" y="2321.30" font-size="28.50" textLength="56.78" lengthAdjust="spacingAndGlyphs" fill="#000">0.00</text>
<text transform="translate(103.60,2203.20) rotate(-90)" x="-2.43" y="0" font-size="30.00" textLength="256.70" lengthAdjust="spacingAndGlyphs" fill="#000">Proportion of peaks</text>
<rect x="423" y="1959" width="34.5" height="32.6" fill="#e41a1c"/>
<text x="471.29" y="1981.30" font-size="29.50" textLength="94.92" lengthAdjust="spacingAndGlyphs" fill="#000">&gt;100kb</text>
<rect x="423" y="2005.9" width="34.5" height="32.6" fill="#31699d"/>
<text x="470.76" y="2029.20" font-size="29.50" textLength="124.51" lengthAdjust="spacingAndGlyphs" fill="#000">upstream</text>
<rect x="423" y="2051.9" width="34.5" height="32.6" fill="#4daf4a"/>
<text x="471.33" y="2079.70" font-size="29.50" textLength="170.18" lengthAdjust="spacingAndGlyphs" fill="#000">Overlap Start</text>
<rect x="423" y="2097.1" width="34.5" height="32.6" fill="#984ea3"/>
<text x="471.36" y="2124.10" font-size="29.50" textLength="75.62" lengthAdjust="spacingAndGlyphs" fill="#000">inside</text>
<text x="937.79" y="1722.30" font-size="29.00" textLength="23.82" lengthAdjust="spacingAndGlyphs" fill="#000">e.</text>
<rect x="1085.9" y="2253.15" width="789.5" height="1.2" fill="#efefef"/>
<rect x="1085.9" y="2137.25" width="789.5" height="1.2" fill="#efefef"/>
<rect x="1085.9" y="2021.35" width="789.5" height="1.2" fill="#efefef"/>
<rect x="1085.9" y="1905.45" width="789.5" height="1.2" fill="#efefef"/>
<rect x="1085.9" y="1789.55" width="789.5" height="1.2" fill="#efefef"/>
<rect x="1085.9" y="2310.90" width="789.5" height="1.6" fill="#ebebeb"/>
<rect x="1085.9" y="2195.00" width="789.5" height="1.6" fill="#ebebeb"/>
<rect x="1085.9" y="2079.10" width="789.5" height="1.6" fill="#ebebeb"/>
<rect x="1085.9" y="1963.20" width="789.5" height="1.6" fill="#ebebeb"/>
<rect x="1085.9" y="1847.30" width="789.5" height="1.6" fill="#ebebeb"/>
<rect x="1107.20" y="1749" width="1.6" height="589.3000000000002" fill="#ebebeb"/>
<rect x="1144.47" y="1749" width="1.6" height="589.3000000000002" fill="#ebebeb"/>
<rect x="1181.74" y="1749" width="1.6" height="589.3000000000002" fill="#ebebeb"/>
<rect x="1219.01" y="1749" width="1.6" height="589.3000000000002" fill="#ebebeb"/>
<rect x="1256.28" y="1749" width="1.6" height="589.3000000000002" fill="#ebebeb"/>
<rect x="1293.55" y="1749" width="1.6" height="589.3000000000002" fill="#ebebeb"/>
<rect x="1330.82" y="1749" width="1.6" height="589.3000000000002" fill="#ebebeb"/>
<rect x="1368.09" y="1749" width="1.6" height="589.3000000000002" fill="#ebebeb"/>
<rect x="1405.36" y="1749" width="1.6" height="589.3000000000002" fill="#ebebeb"/>
<rect x="1442.63" y="1749" width="1.6" height="589.3000000000002" fill="#ebebeb"/>
<rect x="1479.90" y="1749" width="1.6" height="589.3000000000002" fill="#ebebeb"/>
<rect x="1517.17" y="1749" width="1.6" height="589.3000000000002" fill="#ebebeb"/>
<rect x="1554.44" y="1749" width="1.6" height="589.3000000000002" fill="#ebebeb"/>
<rect x="1591.71" y="1749" width="1.6" height="589.3000000000002" fill="#ebebeb"/>
<rect x="1628.98" y="1749" width="1.6" height="589.3000000000002" fill="#ebebeb"/>
<rect x="1666.25" y="1749" width="1.6" height="589.3000000000002" fill="#ebebeb"/>
<rect x="1703.52" y="1749" width="1.6" height="589.3000000000002" fill="#ebebeb"/>
<rect x="1740.79" y="1749" width="1.6" height="589.3000000000002" fill="#ebebeb"/>
<rect x="1778.06" y="1749" width="1.6" height="589.3000000000002" fill="#ebebeb"/>
<rect x="1815.33" y="1749" width="1.6" height="589.3000000000002" fill="#ebebeb"/>
<rect x="1852.60" y="1749" width="1.6" height="589.3000000000002" fill="#ebebeb"/>
<rect x="1091.20" y="1776.30" width="33.6" height="535.40" fill="#3b5ece"/>
<rect x="1128.47" y="1946.20" width="33.6" height="365.50" fill="#8a8dcd"/>
<rect x="1165.74" y="1954.90" width="33.6" height="356.80" fill="#9e9fd0"/>
<rect x="1203.01" y="2133.30" width="33.6" height="178.40" fill="#a8a9cd"/>
<rect x="1240.28" y="2169.00" width="33.6" height="142.70" fill="#aeaecb"/>
<rect x="1277.55" y="2169.00" width="33.6" height="142.70" fill="#b2b2cb"/>
<rect x="1314.82" y="2160.00" width="33.6" height="151.70" fill="#b7b7ca"/>
<rect x="1352.09" y="2133.30" width="33.6" height="178.40" fill="#bbbaca"/>
<rect x="1389.36" y="2222.30" width="33.6" height="89.40" fill="#c1c0ca"/>
<rect x="1426.63" y="2169.00" width="33.6" height="142.70" fill="#c5c4ca"/>
<rect x="1463.90" y="2204.90" width="33.6" height="106.80" fill="#c8c8ca"/>
<rect x="1501.17" y="2186.90" width="33.6" height="124.80" fill="#cacaca"/>
<rect x="1538.44" y="2222.30" width="33.6" height="89.40" fill="#cdc9c8"/>
<rect x="1575.71" y="2258.80" width="33.6" height="52.90" fill="#cfc5c2"/>
<rect x="1612.98" y="2204.90" width="33.6" height="106.80" fill="#d0c0bc"/>
<rect x="1650.25" y="2142.30" width="33.6" height="169.40" fill="#d2bcb8"/>
<rect x="1687.52" y="2186.90" width="33.6" height="124.80" fill="#d4b8b3"/>
<rect x="1724.79" y="2178.20" width="33.6" height="133.50" fill="#d4b2ac"/>
<rect x="1762.06" y="2124.60" width="33.6" height="187.10" fill="#d7a8a0"/>
<rect x="1799.33" y="2142.30" width="33.6" height="169.40" fill="#d8958b"/>
<rect x="1836.60" y="2080.20" width="33.6" height="231.50" fill="#d65145"/>
<rect x="1085.9" y="1749" width="789.5" height="589.3000000000002" fill="none" stroke="#333" stroke-width="1.9"/>
<rect x="1080" y="2310.90" width="6" height="1.6" fill="#333"/>
<text x="1049.62" y="2308.80" font-size="28.50" textLength="16.75" lengthAdjust="spacingAndGlyphs" fill="#000">0</text>
<rect x="1080" y="2195.00" width="6" height="1.6" fill="#333"/>
<text x="1050.36" y="2198.40" font-size="28.50" textLength="15.61" lengthAdjust="spacingAndGlyphs" fill="#000">1</text>
<rect x="1080" y="2079.10" width="6" height="1.6" fill="#333"/>
<text x="1050.50" y="2074.20" font-size="28.50" textLength="15.50" lengthAdjust="spacingAndGlyphs" fill="#000">2</text>
<rect x="1080" y="1963.20" width="6" height="1.6" fill="#333"/>
<text x="1052.44" y="1961.30" font-size="28.50" textLength="15.48" lengthAdjust="spacingAndGlyphs" fill="#000">3</text>
<rect x="1080" y="1847.30" width="6" height="1.6" fill="#333"/>
<text x="1050.05" y="1844.00" font-size="28.50" textLength="15.67" lengthAdjust="spacingAndGlyphs" fill="#000">4</text>
<text transform="translate(1019.20,2204.40) rotate(-90)" x="-0.97" y="0" font-size="29.50" textLength="321.20" lengthAdjust="spacingAndGlyphs" fill="#000">% bound by ETV6-RUNX1</text>
<text transform="translate(1117.00,1880.20) rotate(-90)" x="-1.06" y="0" font-size="23.50" textLength="95.16" lengthAdjust="spacingAndGlyphs" fill="#000">9.40e−13</text>
<text transform="translate(1154.00,2049.20) rotate(-90)" x="-1.72" y="0" font-size="23.50" textLength="94.58" lengthAdjust="spacingAndGlyphs" fill="#000">1.59e−04</text>
<text transform="translate(1191.50,2059.70) rotate(-90)" x="-1.14" y="0" font-size="23.50" textLength="95.31" lengthAdjust="spacingAndGlyphs" fill="#000">2.39e−04</text>
<defs>
<linearGradient id="gb" x1="0" x2="1" y1="0" y2="0">
<stop offset="0" stop-color="#3a5fcd"/><stop offset="0.11" stop-color="#3d60cf"/><stop offset="0.22" stop-color="#7f87d6"/>
<stop offset="0.35" stop-color="#aaaadd"/><stop offset="0.7" stop-color="#b3b3de"/><stop offset="1" stop-color="#ececf2"/>
</linearGradient>
<linearGradient id="gr" x1="0" x2="1" y1="0" y2="0">
<stop offset="0" stop-color="#f2e9e8"/><stop offset="0.45" stop-color="#ead2ce"/><stop offset="0.7" stop-color="#e6b9b2"/>
<stop offset="0.85" stop-color="#e1938a"/><stop offset="1" stop-color="#d5524a"/>
</linearGradient>
<linearGradient id="gl" x1="0" x2="0" y1="0" y2="1">
<stop offset="0" stop-color="#d6534a"/><stop offset="0.16" stop-color="#e4897d"/><stop offset="0.3" stop-color="#e8b3ab"/>
<stop offset="0.43" stop-color="#e6dfdd"/><stop offset="0.45" stop-color="#e4e4e4"/><stop offset="0.58" stop-color="#c8c8e4"/>
<stop offset="0.72" stop-color="#a8a7dc"/><stop offset="0.86" stop-color="#7a83d6"/><stop offset="1" stop-color="#3a5fcd"/>
</linearGradient>
</defs>
<path d="M1093,2344.8 L1505,2367 L1093,2367 Z" fill="url(#gb)"/>
<path d="M1505,2369.6 L1881,2344.2 L1881,2369.8 Z" fill="url(#gr)"/>
<text x="1187.33" y="2422.50" font-size="28.00" textLength="632.04" lengthAdjust="spacingAndGlyphs" fill="#000">relative expression of t(12;21)/all other subtypes</text>
<text x="1912.41" y="1852.40" font-size="29.50" textLength="31.01" lengthAdjust="spacingAndGlyphs" fill="#000">lfc</text>
<rect x="1903" y="1894.9" width="59.2" height="309.7" fill="url(#gl)"/>
<rect x="1903" y="1943.80" width="10" height="2" fill="#fff"/>
<rect x="1950.5" y="1943.80" width="11.7" height="2" fill="#fff"/>
<rect x="1903" y="2030.00" width="10" height="2" fill="#fff"/>
<rect x="1950.5" y="2030.00" width="11.7" height="2" fill="#fff"/>
<rect x="1903" y="2116.30" width="10" height="2" fill="#fff"/>
<rect x="1950.5" y="2116.30" width="11.7" height="2" fill="#fff"/>
<text x="1990.83" y="1957.10" font-size="28.50" textLength="15.87" lengthAdjust="spacingAndGlyphs" fill="#000">1</text>
<text x="1991.29" y="2044.40" font-size="28.50" textLength="17.22" lengthAdjust="spacingAndGlyphs" fill="#000">0</text>
<text x="1982.44" y="2129.60" font-size="28.50" textLength="25.25" lengthAdjust="spacingAndGlyphs" fill="#000">-1</text>
</svg>
</body></html>
